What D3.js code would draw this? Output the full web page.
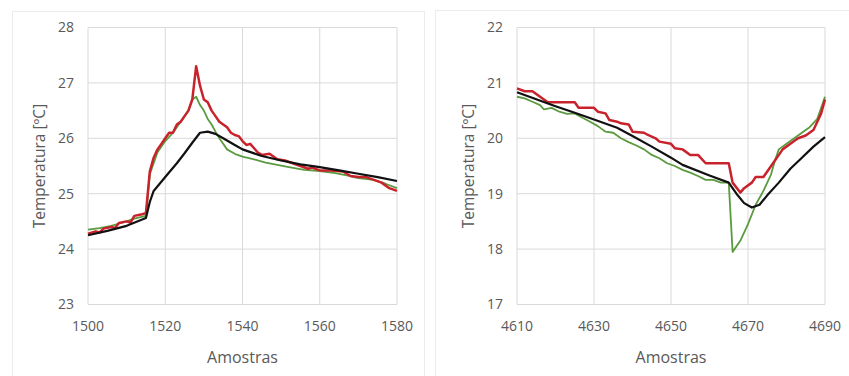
<!DOCTYPE html>
<html>
<head>
<meta charset="utf-8">
<script src="https://cdn.jsdelivr.net/npm/d3@7"></script>
<style>
  body { margin: 0; background: #fff; }
  svg { display: block; font-family: "Open Sans", "Noto Sans", sans-serif; }
</style>
</head>
<body>
<div id="chart"></div>
<script>
// left panel: samples 1500-1580
const leftX = [1500, 1520, 1540, 1560, 1580];
const leftY = [23, 24, 25, 26, 27, 28];
const leftBlack = [
  [1500, 24.25], [1505, 24.33], [1510, 24.42], [1515, 24.56], [1516, 24.85], [1517, 25.05],
  [1520, 25.3], [1523, 25.55], [1525, 25.73], [1527, 25.92], [1529, 26.1], [1531, 26.12],
  [1533, 26.08], [1535, 26.0], [1538, 25.88], [1540, 25.8], [1545, 25.68], [1550, 25.6],
  [1555, 25.53], [1560, 25.48], [1565, 25.42], [1570, 25.36], [1575, 25.3], [1580, 25.23]
];
const leftRed = [
  [1500, 24.28], [1502, 24.32], [1503, 24.3], [1504, 24.37], [1506, 24.4], [1507, 24.38],
  [1508, 24.47], [1510, 24.5], [1511, 24.48], [1512, 24.6], [1514, 24.63], [1515, 24.65],
  [1516, 25.4], [1517, 25.65], [1518, 25.8], [1519, 25.9], [1520, 26.0], [1521, 26.1],
  [1522, 26.1], [1523, 26.25], [1524, 26.3], [1525, 26.4], [1526, 26.5], [1527, 26.7],
  [1528, 27.3], [1529, 26.95], [1530, 26.7], [1531, 26.65], [1532, 26.5], [1533, 26.4],
  [1534, 26.3], [1535, 26.25], [1536, 26.2], [1537, 26.1], [1538, 26.06], [1539, 26.04],
  [1540, 25.95], [1541, 25.88], [1542, 25.9], [1543, 25.82], [1544, 25.74], [1545, 25.7],
  [1547, 25.72], [1549, 25.62], [1551, 25.6], [1553, 25.55], [1555, 25.5], [1557, 25.45],
  [1558, 25.47], [1560, 25.42], [1563, 25.42], [1566, 25.4], [1568, 25.32], [1570, 25.3],
  [1572, 25.3], [1574, 25.25], [1576, 25.2], [1578, 25.1], [1580, 25.05]
];
const leftGreen = [
  [1500, 24.35], [1503, 24.38], [1506, 24.42], [1509, 24.48], [1512, 24.55], [1515, 24.6],
  [1516, 25.35], [1518, 25.75], [1520, 25.95], [1522, 26.1], [1524, 26.3], [1526, 26.5],
  [1527, 26.7], [1528, 26.75], [1529, 26.6], [1530, 26.5], [1531, 26.35], [1532, 26.25],
  [1533, 26.12], [1534, 26.0], [1535, 25.9], [1536, 25.8], [1538, 25.72], [1540, 25.67],
  [1543, 25.62], [1546, 25.56], [1549, 25.52], [1552, 25.48], [1556, 25.43], [1560, 25.41],
  [1564, 25.37], [1567, 25.33], [1570, 25.28], [1574, 25.25], [1577, 25.18], [1580, 25.1]
];

// right panel: samples 4610-4690
const rightX = [4610, 4630, 4650, 4670, 4690];
const rightY = [17, 18, 19, 20, 21, 22];
const rightBlack = [
  [4610, 20.83], [4620, 20.58], [4625, 20.46], [4630, 20.34], [4636, 20.19], [4640, 20.04],
  [4645, 19.85], [4650, 19.65], [4653, 19.52], [4660, 19.33], [4665, 19.2], [4667, 19.0],
  [4669, 18.83], [4671, 18.75], [4673, 18.8], [4675, 18.97], [4678, 19.2], [4681, 19.45],
  [4684, 19.65], [4687, 19.85], [4690, 20.02]
];
const rightRed = [
  [4610, 20.9], [4612, 20.85], [4614, 20.85], [4616, 20.75], [4618, 20.65], [4625, 20.65],
  [4626, 20.55], [4630, 20.55], [4631, 20.48], [4633, 20.45], [4634, 20.33], [4636, 20.3],
  [4637, 20.27], [4639, 20.25], [4640, 20.12], [4643, 20.1], [4644, 20.06], [4646, 20.0],
  [4647, 19.94], [4650, 19.9], [4651, 19.82], [4653, 19.8], [4655, 19.7], [4657, 19.7],
  [4659, 19.55], [4665, 19.55], [4666, 19.2], [4668, 19.02], [4669, 19.1], [4671, 19.2],
  [4672, 19.3], [4674, 19.3], [4676, 19.5], [4677, 19.6], [4679, 19.8], [4681, 19.9],
  [4683, 20.0], [4685, 20.05], [4687, 20.15], [4688, 20.3], [4689, 20.45], [4690, 20.7]
];
const rightGreen = [
  [4610, 20.75], [4612, 20.72], [4614, 20.66], [4616, 20.6], [4617, 20.52], [4619, 20.55],
  [4621, 20.48], [4623, 20.44], [4625, 20.45], [4627, 20.37], [4629, 20.3], [4631, 20.22],
  [4633, 20.12], [4635, 20.1], [4637, 20.0], [4639, 19.93], [4641, 19.87], [4643, 19.8],
  [4645, 19.7], [4647, 19.64], [4649, 19.55], [4651, 19.5], [4653, 19.43], [4655, 19.38],
  [4657, 19.32], [4659, 19.25], [4661, 19.25], [4663, 19.2], [4665, 19.2], [4666, 17.95],
  [4668, 18.15], [4670, 18.45], [4672, 18.8], [4674, 19.05], [4676, 19.35], [4677, 19.6],
  [4678, 19.8], [4680, 19.9], [4682, 20.0], [4684, 20.1], [4686, 20.2], [4688, 20.35],
  [4690, 20.75]
];

const width = 849, height = 376;
const svg = d3.select("#chart").append("svg")
  .attr("width", width).attr("height", height);

const textColor = "#595959";
const gridColor = "#d9d9d9";

function drawPanel(opt) {
  // panel frame
  svg.append("rect")
    .attr("x", opt.frame[0]).attr("y", opt.frame[1])
    .attr("width", opt.frame[2]).attr("height", opt.frame[3])
    .attr("fill", "#fff").attr("stroke", "#ececec");

  const x = d3.scaleLinear().domain(d3.extent(opt.xTicks)).range([opt.left, opt.right]);
  const y = d3.scaleLinear().domain(d3.extent(opt.yTicks)).range([opt.bottom, opt.top]);

  const g = svg.append("g");

  g.append("g").selectAll("line").data(opt.yTicks).join("line")
    .attr("x1", opt.left).attr("x2", opt.right)
    .attr("y1", d => y(d)).attr("y2", d => y(d))
    .attr("stroke", gridColor).attr("stroke-width", 1);

  g.append("g").selectAll("line").data(opt.xTicks).join("line")
    .attr("y1", opt.top).attr("y2", opt.bottom)
    .attr("x1", d => x(d)).attr("x2", d => x(d))
    .attr("stroke", gridColor).attr("stroke-width", 1);

  g.append("g").selectAll("text").data(opt.yTicks).join("text")
    .attr("x", opt.left - 14).attr("y", d => y(d)).attr("dy", "0.35em")
    .attr("text-anchor", "end").attr("font-size", 14).attr("fill", textColor)
    .text(d => d);

  g.append("g").selectAll("text").data(opt.xTicks).join("text")
    .attr("x", d => x(d)).attr("y", opt.bottom + 26)
    .attr("text-anchor", "middle").attr("font-size", 14).attr("fill", textColor)
    .text(d => d);

  g.append("text")
    .attr("x", (opt.left + opt.right) / 2).attr("y", opt.bottom + 58)
    .attr("text-anchor", "middle").attr("font-size", 16).attr("fill", textColor)
    .text("Amostras");

  g.append("text")
    .attr("transform", `translate(${opt.titleX},${(opt.top + opt.bottom) / 2}) rotate(-90)`)
    .attr("text-anchor", "middle").attr("font-size", 15.5).attr("fill", textColor)
    .text("Temperatura [ºC]");

  const line = d3.line().x(d => x(d[0])).y(d => y(d[1]));

  const series = [
    { data: opt.green, color: "#5b9b3f", w: 1.8 },
    { data: opt.red, color: "#c8232c", w: 2.5 },
    { data: opt.black, color: "#111111", w: 2.2 }
  ];

  g.append("g").selectAll("path").data(series).join("path")
    .attr("d", d => line(d.data))
    .attr("fill", "none")
    .attr("stroke", d => d.color)
    .attr("stroke-width", d => d.w)
    .attr("stroke-linejoin", "round");
}

drawPanel({
  frame: [12.5, 11.5, 412, 370],
  left: 88, right: 397, top: 27.5, bottom: 304.5,
  xTicks: leftX, yTicks: leftY, titleX: 45,
  black: leftBlack, red: leftRed, green: leftGreen
});

drawPanel({
  frame: [435.5, 10.5, 420, 370],
  left: 517, right: 825, top: 27.5, bottom: 304.5,
  xTicks: rightX, yTicks: rightY, titleX: 474,
  black: rightBlack, red: rightRed, green: rightGreen
});
</script>
</body>
</html>
